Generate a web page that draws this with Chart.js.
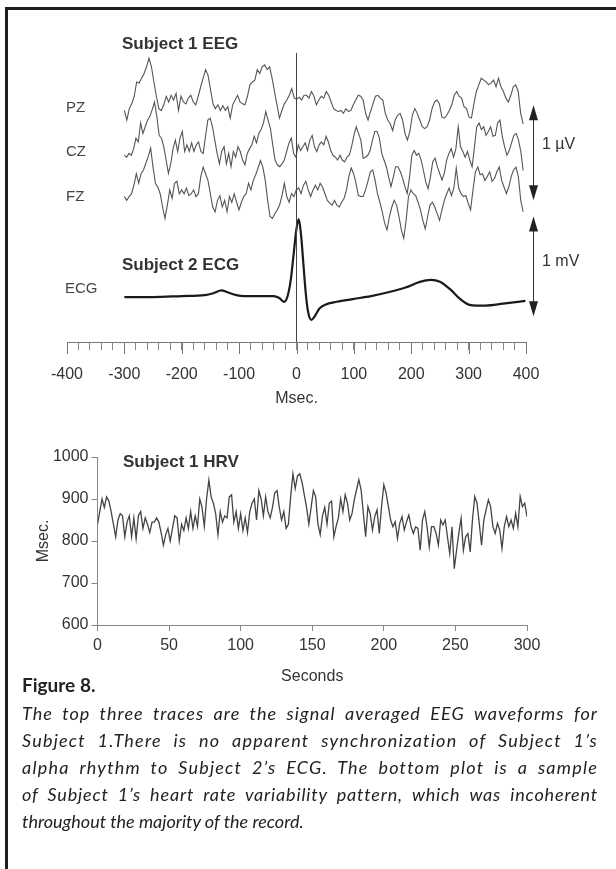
<!DOCTYPE html>
<html>
<head>
<meta charset="utf-8">
<script src="https://cdn.jsdelivr.net/npm/chart.js@4.4.1/dist/chart.umd.min.js"></script>
<style>
  html, body { margin: 0; padding: 0; background: #fff; }
  body { width: 616px; height: 869px; position: relative; overflow: hidden; }
  .frame-top { position: absolute; left: 5px; top: 7px; width: 611px; height: 3px; background: #1e1e1e; }
  .frame-left { position: absolute; left: 5px; top: 7px; width: 3px; height: 862px; background: #1e1e1e; }
  #topWrap { position: absolute; left: 0; top: 0; width: 616px; height: 420px; }
  #hrvWrap { position: absolute; left: 0; top: 420px; width: 616px; height: 270px; }
  #caption { position: absolute; left: 22px; top: 673px; width: 576px; color: #222; font-family: 'Lato', 'Open Sans', sans-serif; }
  #caption .fig { font-weight: bold; font-size: 19px; line-height: 24px; margin-bottom: 3px; }
  #caption .ln { font-style: italic; font-size: 18px; line-height: 27px; text-align: left; white-space: nowrap; }
  #caption .ln.fill { text-align: justify; text-align-last: justify; }
</style>
</head>
<body>
<div class="frame-top"></div>
<div class="frame-left"></div>
<div id="topWrap"><canvas id="eegChart"></canvas></div>
<div id="hrvWrap"><canvas id="hrvChart"></canvas></div>
<div id="caption">
  <div class="fig">Figure 8.</div>
  <div class="ln"><span>The top three traces are the signal averaged EEG waveforms for</span></div>
  <div class="ln"><span>Subject 1.There is no apparent synchronization of Subject 1’s</span></div>
  <div class="ln"><span>alpha rhythm to Subject 2’s ECG. The bottom plot is a sample</span></div>
  <div class="ln"><span>of Subject 1’s heart rate variability pattern, which was incoherent</span></div>
  <div class="ln last"><span>throughout the majority of the record.</span></div>
</div>
<script>
// ---- data ----
const traceNames = ['PZ', 'CZ', 'FZ'];
const eegStartMs = -300;
const eegEndMs = 395;

// averaged EEG, µV relative to each trace's own baseline
const pzValues = [
  -0.11,-0.21,-0.09,-0.04,0.04,0.19,0.18,0.23,0.28,0.35,
  0.44,0.35,0.19,0.04,-0.09,-0.11,-0.05,0.04,-0.02,0.05,
  0,0.07,-0.11,0.04,-0.02,-0.04,0.02,0.05,-0.02,-0.05,
  0.04,0.14,0.23,0.32,0.26,0.11,-0.04,-0.09,-0.05,-0.11,
  -0.06,-0.11,-0.07,-0.19,-0.05,0,0.05,-0.02,-0.04,-0.05,
  0.04,0.16,0.19,0.21,0.32,0.28,0.35,0.37,0.32,0.35,
  0.23,0.09,-0.05,-0.19,-0.11,-0.04,0,0.05,0.12,0.02,
  0.01,0.03,0,0.05,0.05,0.02,0.09,0.04,-0.05,0,
  0.04,0.02,0.09,0.05,-0.02,-0.09,-0.11,-0.12,-0.11,-0.14,
  -0.09,-0.12,-0.11,-0.05,0,0.05,0.04,0,
  -0.14,-0.21,-0.12,-0.04,0.04,0.05,0.02,0,-0.14,-0.21,
  -0.25,-0.32,-0.21,-0.16,-0.14,-0.21,-0.35,-0.42,-0.33,-0.16,
  -0.09,-0.14,-0.21,-0.28,-0.30,-0.28,-0.21,-0.09,-0.02,0,
  -0.04,-0.18,-0.19,-0.16,-0.11,-0.05,0.05,0.09,0.04,0.02,
  -0.07,-0.09,-0.18,-0.19,-0.04,0.09,0.16,0.23,0.21,0.19,
  0.16,0.18,0.21,0.14,0.23,0.14,0.09,0.02,-0.02,0.05,
  0.14,0.16,0.09,-0.14,-0.25
];
const czValues = [
  -0.09,-0.11,-0.07,-0.09,-0.02,0.09,0.05,0.25,0.14,0.21,
  0.28,0.32,0.39,0.47,0.32,0.12,0.09,0,-0.14,-0.28,
  -0.18,-0.02,0.07,-0.05,0.09,0.16,-0.05,0.02,-0.05,0.04,
  -0.05,0.02,0.05,-0.05,-0.07,0.11,0.28,0.30,0.21,0.07,
  -0.07,-0.18,-0.05,0,-0.18,-0.07,-0.21,-0.05,-0.11,0,
  -0.05,-0.14,-0.19,-0.07,-0.02,0.02,0.11,0.04,0.14,0.18,
  0.25,0.37,0.28,0.19,0.02,-0.14,-0.19,-0.21,-0.18,-0.14,
  -0.05,0.04,0.09,-0.07,-0.11,0.02,-0.04,0,0.04,-0.04,
  0.07,0.12,0,-0.05,0.02,0.05,0.02,0.11,0.05,-0.04,
  -0.09,-0.11,-0.14,-0.09,-0.14,-0.16,-0.11,-0.09,0,0.12,
  0.21,0.14,0.07,
  -0.12,-0.11,-0.09,-0.04,0.07,0.16,0.16,0.09,-0.07,-0.14,
  -0.21,-0.32,-0.42,-0.32,-0.21,-0.21,-0.26,-0.33,-0.42,-0.49,
  -0.32,-0.09,-0.04,-0.09,-0.07,-0.14,-0.25,-0.37,-0.44,-0.32,
  -0.16,-0.12,-0.21,-0.28,-0.35,-0.28,-0.14,-0.07,-0.02,-0.11,
  -0.02,0.21,0,-0.05,-0.11,-0.05,-0.14,-0.21,0,0.21,
  0.25,0.18,0.21,0.12,0.16,0.21,0.11,0.12,0.25,0.28,
  0.11,0,-0.09,-0.04,0.04,0.12,0.14,0.07,-0.05,-0.25
];
const fzValues = [
  -0.05,-0.09,-0.05,-0.02,0.07,0.19,0.09,0.19,0.23,0.30,
  0.37,0.46,0.26,0.09,0.05,-0.02,-0.16,-0.28,-0.14,0.02,
  -0.07,0.09,0.11,-0.02,0.02,-0.02,0.04,-0.04,-0.02,0.02,
  -0.05,-0.02,0.16,0.26,0.19,0.12,-0.02,-0.16,-0.21,-0.09,
  -0.04,-0.16,-0.09,-0.21,-0.05,-0.11,-0.02,-0.11,-0.19,-0.11,
  -0.05,-0.02,0.09,0.02,0.12,0.18,0.25,0.33,0.26,0.12,
  -0.09,-0.26,-0.28,-0.23,-0.19,-0.14,-0.04,0.09,-0.05,-0.11,
  -0.02,-0.05,0.02,0.04,-0.02,0.07,0.11,0.02,-0.05,0.02,
  0.07,0.02,0.09,0.05,-0.02,-0.09,-0.12,-0.14,-0.09,-0.14,
  -0.16,-0.11,-0.07,0.02,0.16,0.25,0.19,0.09,
  -0.04,-0.05,-0.05,0.02,0.11,0.21,0.23,0.12,-0.02,-0.11,
  -0.21,-0.33,-0.40,-0.26,-0.16,-0.09,-0.14,-0.26,-0.40,-0.49,
  -0.30,-0.05,0.02,-0.02,-0.04,-0.11,-0.19,-0.30,-0.39,-0.26,
  -0.14,-0.11,-0.16,-0.23,-0.30,-0.19,-0.09,-0.02,0.04,-0.04,
  0.04,0.25,0.04,-0.02,-0.05,-0.04,-0.12,-0.19,0.02,0.21,
  0.26,0.18,0.19,0.12,0.16,0.21,0.11,0.14,0.21,0.26,
  0.12,0.05,-0.02,0.05,0.16,0.23,0.26,0.16,-0.09,-0.21
];

// Subject 2 ECG, mV
const ecgTimes = [-300,-250,-200,-160,-145,-131,-120,-105,-90,-60,-40,-30,-22,-16,-10,-5,0,4,8,12,16,20,26,32,40,50,70,100,130,160,190,215,234,250,268,285,300,315,330,360,399];
const ecgValues = [0,0,0.01,0.02,0.04,0.07,0.05,0.02,0.01,0.01,0.01,-0.01,-0.05,0,0.18,0.45,0.72,0.82,0.65,0.35,0.05,-0.15,-0.24,-0.2,-0.12,-0.08,-0.05,-0.02,0.01,0.05,0.1,0.16,0.18,0.16,0.08,-0.02,-0.08,-0.09,-0.09,-0.07,-0.04];

const msTicks = [-400, -300, -200, -100, 0, 100, 200, 300, 400];

// Subject 1 HRV, R-R interval in msec over 300 s
const hrvSeconds = 300;
const hrvValues = [
  840,870,900,880,905,895,870,840,810,850,
  865,860,810,845,860,810,855,805,860,870,
  830,855,840,820,845,845,855,845,820,790,
  815,830,800,830,860,855,800,840,825,855,
  830,870,830,860,835,900,880,835,900,945,
  905,890,865,815,870,845,860,855,905,910,
  845,870,830,865,825,855,820,870,890,900,
  850,920,900,860,905,870,855,880,915,920,
  880,850,870,830,840,905,960,925,955,960,
  940,910,880,840,880,920,905,840,815,860,
  880,840,890,895,810,835,855,900,870,
  910,890,850,865,898,922,946,922,865,810,
  882,865,826,858,874,818,882,934,914,882,
  850,834,846,806,842,858,826,846,862,834,
  818,834,830,778,850,870,834,786,834,834,
  818,790,850,838,850,810,770,834,734,778,
  818,854,778,810,818,774,850,906,890,842,
  790,850,874,898,882,834,818,842,826,782,
  834,858,834,850,830,866,834,906,882,890,858
];
const hrvXTicks = [0, 50, 100, 150, 200, 250, 300];
const hrvYTicks = [600, 700, 800, 900, 1000];

// ---- layout of the stacked traces (y units: 1 unit = 1 µV / 1 mV bar) ----
const Y_MAX = 3.04;
const traceOffsets = { PZ: 2.545, CZ: 2.054, FZ: 1.58, ECG: 0.473 };

Chart.defaults.font.family = "'Liberation Sans', Arial, sans-serif";
Chart.defaults.font.size = 16;
Chart.defaults.color = '#333';
Chart.defaults.animation = false;

function evenSeries(values, start, end, offset) {
    const step = (end - start) / (values.length - 1);
    return values.map((v, i) => ({ x: start + i * step, y: v + offset }));
}

function drawScaleBar(ctx, px, yTop, yBot) {
    const head = 15, half = 4.5;
    ctx.strokeStyle = '#333';
    ctx.fillStyle = '#222';
    ctx.lineWidth = 1;
    ctx.beginPath();
    ctx.moveTo(px, yTop + head - 2);
    ctx.lineTo(px, yBot - head + 2);
    ctx.stroke();
    ctx.beginPath();
    ctx.moveTo(px, yTop);
    ctx.lineTo(px - half, yTop + head);
    ctx.lineTo(px + half, yTop + head);
    ctx.closePath();
    ctx.fill();
    ctx.beginPath();
    ctx.moveTo(px, yBot);
    ctx.lineTo(px - half, yBot - head);
    ctx.lineTo(px + half, yBot - head);
    ctx.closePath();
    ctx.fill();
}

const eegAnnotations = {
    id: 'eegAnnotations',
    afterDraw(chart) {
        const { ctx, chartArea } = chart;
        const x = chart.scales.x;
        const y = chart.scales.y;
        ctx.save();

        // longer ticks at every 100 ms
        ctx.strokeStyle = '#777';
        ctx.lineWidth = 1;
        msTicks.forEach(function (v) {
            const px = Math.round(x.getPixelForValue(v)) + 0.5;
            ctx.beginPath();
            ctx.moveTo(px, chartArea.bottom);
            ctx.lineTo(px, chartArea.bottom + 12);
            ctx.stroke();
        });

        ctx.fillStyle = '#333';
        ctx.textBaseline = 'middle';
        ctx.textAlign = 'left';
        ctx.font = "bold 17px 'Liberation Sans', Arial, sans-serif";
        ctx.fillText('Subject 1 EEG', 122, 44);
        ctx.fillText('Subject 2 ECG', 122, 265);

        ctx.fillStyle = '#444';
        ctx.font = "15px 'Liberation Sans', Arial, sans-serif";
        ctx.fillText(traceNames[0], 66, 108);
        ctx.fillText(traceNames[1], 66, 152);
        ctx.fillText(traceNames[2], 66, 197);
        ctx.fillText('ECG', 65, 289);

        const barX = Math.round(x.getPixelForValue(412)) + 0.5;
        drawScaleBar(ctx, barX, y.getPixelForValue(2.49), y.getPixelForValue(1.49));
        drawScaleBar(ctx, barX, y.getPixelForValue(1.32), y.getPixelForValue(0.27));
        ctx.fillStyle = '#333';
        ctx.font = "16px 'Liberation Sans', Arial, sans-serif";
        ctx.fillText('1 µV', 542, 145);
        ctx.fillText('1 mV', 542, 262);
        ctx.restore();
    }
};

const eegColor = '#555';
new Chart(document.getElementById('eegChart'), {
    type: 'line',
    data: {
        datasets: [
            {
                label: 'zero',
                data: [{ x: 0, y: 0 }, { x: 0, y: Y_MAX }],
                borderColor: '#444',
                borderWidth: 1
            },
            {
                label: 'PZ',
                data: evenSeries(pzValues, eegStartMs, eegEndMs, traceOffsets.PZ),
                borderColor: eegColor,
                borderWidth: 1.1
            },
            {
                label: 'CZ',
                data: evenSeries(czValues, eegStartMs, eegEndMs, traceOffsets.CZ),
                borderColor: eegColor,
                borderWidth: 1.1
            },
            {
                label: 'FZ',
                data: evenSeries(fzValues, eegStartMs, eegEndMs, traceOffsets.FZ),
                borderColor: eegColor,
                borderWidth: 1.1
            },
            {
                label: 'ECG',
                data: ecgTimes.map((t, i) => ({ x: t, y: ecgValues[i] + traceOffsets.ECG })),
                borderColor: '#1a1a1a',
                borderWidth: 2.2,
                cubicInterpolationMode: 'monotone'
            }
        ]
    },
    options: {
        responsive: true,
        maintainAspectRatio: false,
        devicePixelRatio: 1,
        layout: { padding: { left: 67, right: 90, top: 53, bottom: 8 } },
        elements: { point: { radius: 0 }, line: { tension: 0 } },
        plugins: { legend: { display: false }, tooltip: { enabled: false } },
        scales: {
            x: {
                type: 'linear',
                min: -400,
                max: 400,
                afterFit: function (scale) { scale.height = 70; },
                border: { display: true, color: '#777' },
                grid: { drawOnChartArea: false, tickLength: 8, color: '#888' },
                ticks: {
                    stepSize: 20,
                    autoSkip: false,
                    maxRotation: 0,
                    padding: 15,
                    color: '#333',
                    callback: function (v) { return msTicks.includes(v) ? String(v) : ''; }
                },
                title: { display: true, text: 'Msec.', color: '#333', padding: { top: 2, bottom: 4 } }
            },
            y: {
                display: false,
                min: 0,
                max: Y_MAX
            }
        }
    },
    plugins: [eegAnnotations]
});

const hrvLabel = {
    id: 'hrvLabel',
    afterDraw(chart) {
        const { ctx } = chart;
        ctx.save();
        ctx.fillStyle = '#333';
        ctx.textBaseline = 'middle';
        ctx.font = "bold 17px 'Liberation Sans', Arial, sans-serif";
        ctx.fillText('Subject 1 HRV', 123, 42);
        ctx.restore();
    }
};

new Chart(document.getElementById('hrvChart'), {
    type: 'line',
    data: {
        datasets: [{
            label: 'HRV',
            data: hrvValues.map((v, i) => ({ x: i * hrvSeconds / (hrvValues.length - 1), y: v })),
            borderColor: '#444',
            borderWidth: 1.3,
            pointRadius: 0,
            tension: 0
        }]
    },
    options: {
        responsive: true,
        maintainAspectRatio: false,
        devicePixelRatio: 1,
        layout: { padding: { left: 30, right: 89, top: 37, bottom: 0 } },
        plugins: { legend: { display: false }, tooltip: { enabled: false } },
        scales: {
            x: {
                type: 'linear',
                min: 0,
                max: 300,
                afterFit: function (scale) { scale.height = 65; },
                afterBuildTicks: function (scale) { scale.ticks = hrvXTicks.map(v => ({ value: v })); },
                border: { display: true, color: '#888' },
                grid: { drawOnChartArea: false, tickLength: 6, color: '#888' },
                ticks: { maxRotation: 0, autoSkip: false, padding: 5, color: '#333', callback: v => String(v) },
                title: { display: true, text: 'Seconds', color: '#333', padding: { top: 2, bottom: 4 } }
            },
            y: {
                min: 600,
                max: 1000,
                afterFit: function (scale) { scale.width = 67.5; },
                afterBuildTicks: function (scale) { scale.ticks = hrvYTicks.map(v => ({ value: v })); },
                border: { display: true, color: '#888' },
                grid: { drawOnChartArea: false, tickLength: 6, color: '#888' },
                ticks: { padding: 3, color: '#333', callback: v => String(v) },
                title: { display: true, text: 'Msec.', color: '#333', padding: { top: 4, bottom: 0 } }
            }
        }
    },
    plugins: [hrvLabel]
});

// caption: the printed caption spreads justified lines partly through letter spacing
document.fonts.ready.then(function () {
    const boxWidth = 576;
    document.querySelectorAll('#caption .ln:not(.last)').forEach(function (line) {
        const span = line.querySelector('span');
        const natural = span.getBoundingClientRect().width;
        const chars = span.textContent.length;
        const extra = Math.max(0, boxWidth - natural);
        line.style.letterSpacing = (extra * 0.6 / chars).toFixed(3) + 'px';
        line.classList.add('fill');
    });
});
</script>
</body>
</html>
